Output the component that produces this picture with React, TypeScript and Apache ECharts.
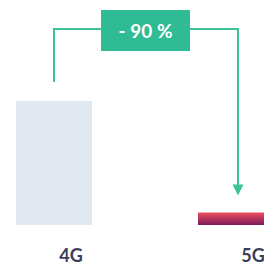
import React, { useEffect, useRef } from "react";
import * as echarts from "echarts";

const categories = ["4G", "5G"];
const values = [100, 10];
const changeLabel = "- 90 %";

export default function App() {
  const ref = useRef<HTMLDivElement>(null);
  useEffect(() => {
    const chart = echarts.init(ref.current!, null, { renderer: "svg" });
    chart.setOption({
      animation: false,
      grid: { left: -37, width: 364, top: 101, bottom: 41, containLabel: false, outerBoundsMode: "none" },
      xAxis: {
        type: "category",
        data: categories,
        axisLine: { show: false },
        axisTick: { show: false },
        axisLabel: {
          margin: 21,
          padding: [0, 0, 0, 34],
          color: "#3b4059",
          fontFamily: "Lato",
          fontWeight: "bold",
          fontSize: 18,
        },
      },
      yAxis: { type: "value", min: 0, max: 100, show: false, splitLine: { show: false } },
      series: [
        {
          type: "bar",
          barWidth: 76,
          data: [
            { value: values[0], itemStyle: { color: "#e1e8f0" } },
            {
              value: values[1],
              itemStyle: {
                color: new echarts.graphic.LinearGradient(0, 0, 0, 1, [
                  { offset: 0, color: "#ef4c5c" },
                  { offset: 1, color: "#7a1c5d" },
                ]),
              },
            },
          ],
        },
      ],
    });
    const p0 = chart.convertToPixel({ seriesIndex: 0 }, [0, values[0]]) as number[];
    const p1 = chart.convertToPixel({ seriesIndex: 0 }, [1, values[1]]) as number[];
    const x0 = Math.round(p0[0]);
    const x1 = Math.round(p1[0]) + 2;
    const topY = 29;
    const startY = p0[1] - 19;
    const tipY = p1[1] - 17;
    const green = "#3cc29a";
    chart.setOption({
      graphic: [
        {
          type: "polyline",
          shape: { points: [[x0, startY], [x0, topY], [x1, topY], [x1, tipY - 10]] },
          style: { stroke: green, lineWidth: 2, fill: null },
        },
        {
          type: "polygon",
          shape: { points: [[x1 - 5.5, tipY - 11], [x1 + 5.5, tipY - 11], [x1, tipY]] },
          style: { fill: green },
        },
        {
          type: "rect",
          shape: { x: 101, y: 10, width: 89, height: 41 },
          style: { fill: "#2fbb93" },
        },
        {
          type: "text",
          x: 145.5,
          y: 30.5,
          style: {
            text: changeLabel,
            fill: "#ffffff",
            font: "bold 19px Lato",
            align: "center",
            verticalAlign: "middle",
          },
        },
      ],
    });
    return () => chart.dispose();
  }, []);
  return <div ref={ref} style={{ width: 264, height: 266, position: "absolute", left: 0, top: 0 }} />;
}
